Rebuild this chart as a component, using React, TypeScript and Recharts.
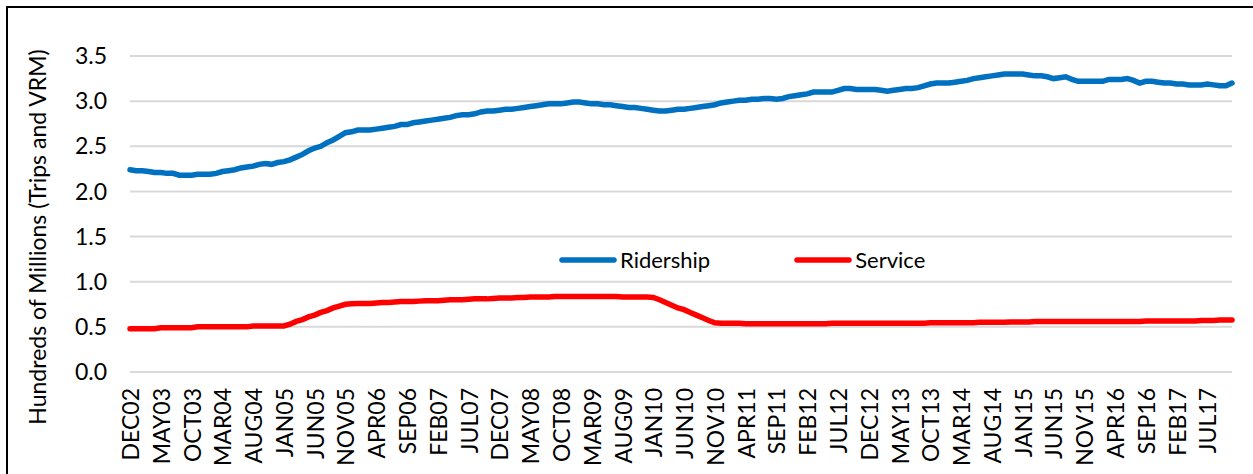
import { LineChart, Line, XAxis, YAxis, CartesianGrid, Legend, Label } from "recharts";

const FONT = "Lato, 'Open Sans', sans-serif";

const MONTH_NAMES = ["JAN", "FEB", "MAR", "APR", "MAY", "JUN", "JUL", "AUG", "SEP", "OCT", "NOV", "DEC"];

// DEC02 .. NOV17, one label per month
const months: string[] = Array.from({ length: 180 }, (_, i) => {
  const m = (11 + i) % 12;
  const yr = 2 + Math.floor((11 + i) / 12);
  return MONTH_NAMES[m] + String(yr).padStart(2, "0");
});

// hundreds of millions (first value = DEC02, then one row per year)
const ridership = [
  2.24,
  2.23, 2.23, 2.22, 2.21, 2.21, 2.2, 2.2, 2.18, 2.18, 2.18, 2.19, 2.19,
  2.19, 2.2, 2.22, 2.23, 2.24, 2.26, 2.27, 2.28, 2.3, 2.31, 2.3, 2.32,
  2.33, 2.35, 2.38, 2.41, 2.45, 2.48, 2.5, 2.54, 2.57, 2.61, 2.65, 2.66,
  2.68, 2.68, 2.68, 2.69, 2.7, 2.71, 2.72, 2.74, 2.74, 2.76, 2.77, 2.78,
  2.79, 2.8, 2.81, 2.82, 2.84, 2.85, 2.85, 2.86, 2.88, 2.89, 2.89, 2.9,
  2.91, 2.91, 2.92, 2.93, 2.94, 2.95, 2.96, 2.97, 2.97, 2.97, 2.98, 2.99,
  2.99, 2.98, 2.97, 2.97, 2.96, 2.96, 2.95, 2.94, 2.93, 2.93, 2.92, 2.91,
  2.9, 2.89, 2.89, 2.9, 2.91, 2.91, 2.92, 2.93, 2.94, 2.95, 2.96, 2.98,
  2.99, 3.0, 3.01, 3.01, 3.02, 3.02, 3.03, 3.03, 3.02, 3.03, 3.05, 3.06,
  3.07, 3.08, 3.1, 3.1, 3.1, 3.1, 3.12, 3.14, 3.14, 3.13, 3.13, 3.13,
  3.13, 3.12, 3.11, 3.12, 3.13, 3.14, 3.14, 3.15, 3.17, 3.19, 3.2, 3.2,
  3.2, 3.21, 3.22, 3.23, 3.25, 3.26, 3.27, 3.28, 3.29, 3.3, 3.3, 3.3,
  3.3, 3.29, 3.28, 3.28, 3.27, 3.25, 3.26, 3.27, 3.24, 3.22, 3.22, 3.22,
  3.22, 3.22, 3.24, 3.24, 3.24, 3.25, 3.23, 3.2, 3.22, 3.22, 3.21, 3.2,
  3.2, 3.19, 3.19, 3.18, 3.18, 3.18, 3.19, 3.18, 3.17, 3.17, 3.2,
];

const service = [
  0.48,
  0.48, 0.48, 0.48, 0.48, 0.49, 0.49, 0.49, 0.49, 0.49, 0.49, 0.5, 0.5,
  0.5, 0.5, 0.5, 0.5, 0.5, 0.5, 0.5, 0.51, 0.51, 0.51, 0.51, 0.51,
  0.51, 0.53, 0.56, 0.58, 0.61, 0.63, 0.66, 0.68, 0.71, 0.73, 0.75, 0.755,
  0.76, 0.76, 0.76, 0.765, 0.77, 0.77, 0.775, 0.78, 0.78, 0.78, 0.785, 0.79,
  0.79, 0.79, 0.795, 0.8, 0.8, 0.8, 0.805, 0.81, 0.81, 0.81, 0.815, 0.82,
  0.82, 0.82, 0.825, 0.825, 0.83, 0.83, 0.83, 0.83, 0.835, 0.835, 0.835, 0.835,
  0.835, 0.835, 0.835, 0.835, 0.835, 0.835, 0.835, 0.83, 0.83, 0.83, 0.83, 0.83,
  0.825, 0.8, 0.77, 0.74, 0.71, 0.69, 0.66, 0.63, 0.6, 0.57, 0.545, 0.54,
  0.54, 0.54, 0.54, 0.535, 0.535, 0.535, 0.535, 0.535, 0.535, 0.535, 0.535, 0.535,
  0.535, 0.535, 0.535, 0.535, 0.535, 0.54, 0.54, 0.54, 0.54, 0.54, 0.54, 0.54,
  0.54, 0.54, 0.54, 0.54, 0.54, 0.54, 0.54, 0.54, 0.54, 0.545, 0.545, 0.545,
  0.545, 0.545, 0.545, 0.545, 0.545, 0.55, 0.55, 0.55, 0.55, 0.55, 0.555, 0.555,
  0.555, 0.555, 0.56, 0.56, 0.56, 0.56, 0.56, 0.56, 0.56, 0.56, 0.56, 0.56,
  0.56, 0.56, 0.56, 0.56, 0.56, 0.56, 0.56, 0.56, 0.565, 0.565, 0.565, 0.565,
  0.565, 0.565, 0.565, 0.565, 0.565, 0.57, 0.57, 0.57, 0.575, 0.575, 0.575,
];

const yTicks = [0, 0.5, 1, 1.5, 2, 2.5, 3, 3.5];

const data = months.map((month, i) => ({ month, Ridership: ridership[i], Service: service[i] }));

function MonthTick(props: any) {
  const { x, y, payload } = props;
  return (
    <text
      x={x}
      y={y}
      transform={`rotate(-90 ${x} ${y})`}
      textAnchor="end"
      dominantBaseline="central"
      fontSize={23}
      fontFamily={FONT}
      fill="#000"
    >
      {payload.value}
    </text>
  );
}

function LegendContent(props: any) {
  const { payload = [] } = props;
  return (
    <div style={{ display: "flex", alignItems: "center", fontFamily: FONT, fontSize: 22, color: "#000" }}>
      {payload.map((p: any, i: number) => (
        <div key={p.value} style={{ display: "flex", alignItems: "center", marginRight: i === 0 ? 84 : 0 }}>
          <svg width={58} height={10}>
            <line x1={3} y1={5} x2={55} y2={5} stroke={p.color} strokeWidth={5.5} strokeLinecap="round" />
          </svg>
          <span style={{ marginLeft: 3 }}>{p.value}</span>
        </div>
      ))}
    </div>
  );
}

export default function App() {
  return (
    <div style={{ position: "relative", width: 1253, height: 474, overflow: "hidden", background: "#fff" }}>
      <style>{`body{margin:0}`}</style>
      <div
        style={{
          position: "absolute",
          left: 6,
          top: 6,
          width: 1320,
          height: 520,
          border: "2px solid #000",
          boxSizing: "border-box",
        }}
      />
      <div style={{ position: "absolute", left: 0, top: 0 }}>
        <LineChart width={1253} height={474} data={data} margin={{ top: 56, right: 21, bottom: 0, left: 0 }}>
          <CartesianGrid vertical={false} stroke="#d9d9d9" strokeWidth={2} />
          <XAxis
            dataKey="month"
            interval={4}
            tick={<MonthTick />}
            tickLine={false}
            axisLine={false}
            tickMargin={10}
            height={102}
          />
          <YAxis
            width={130}
            domain={[0, 3.5]}
            ticks={yTicks}
            interval={0}
            tickFormatter={(v: number) => v.toFixed(1)}
            tickLine={false}
            axisLine={false}
            tickMargin={17}
            tick={{ fontSize: 23, fontFamily: FONT, fill: "#000" }}
          >
            <Label
              content={() => (
                <text
                  x={37}
                  y={237}
                  transform="rotate(-90 37 237)"
                  textAnchor="middle"
                  dominantBaseline="central"
                  fontSize={23}
                  fontFamily={FONT}
                  fill="#000"
                >
                  Hundreds of Millions (Trips and VRM)
                </text>
              )}
            />
          </YAxis>
          <Legend
            verticalAlign="middle"
            content={<LegendContent />}
            wrapperStyle={{ position: "absolute", left: 559, top: 246, width: "auto" }}
          />
          <Line type="linear" dataKey="Ridership" stroke="#0070C0" strokeWidth={5.5} dot={false} strokeLinecap="round" isAnimationActive={false} />
          <Line type="linear" dataKey="Service" stroke="#FF0000" strokeWidth={5.5} dot={false} strokeLinecap="round" isAnimationActive={false} />
        </LineChart>
      </div>
    </div>
  );
}
